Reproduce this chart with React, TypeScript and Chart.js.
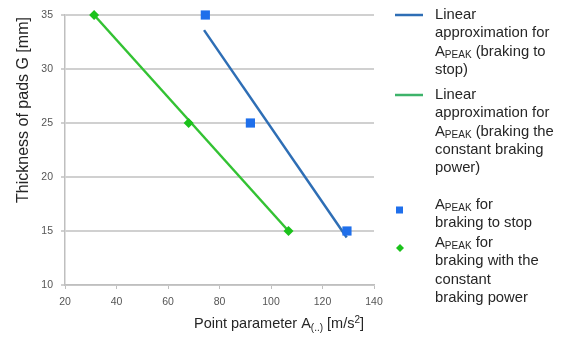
import React, { useEffect, useRef } from 'react';
import { Chart, registerables } from 'chart.js';

Chart.register(...registerables);

// ---- data ----
const xTickValues = [20, 40, 60, 80, 100, 120, 140];
const yTickValues = [10, 15, 20, 25, 30, 35];

const stopX = [74.5, 92, 129.5];
const stopY = [35, 25, 15];
const constX = [31.3, 68, 106.8];
const constY = [35, 25, 15];

const stopFitX = [74, 129.4];
const stopFitY = [33.6, 14.4];
const constFitX = [31.3, 106.8];
const constFitY = [35, 15];

const yTitle = 'Thickness of pads G [mm]';

type Run = { t: string; k?: 'sub' | 'sup' };
const legendItems: { kind: 'line' | 'rect' | 'diamond'; color: string; lines: Run[][] }[] = [
  {
    kind: 'line',
    color: '#2E6EB5',
    lines: [
      [{ t: 'Linear' }],
      [{ t: 'approximation for' }],
      [{ t: 'A' }, { t: 'PEAK', k: 'sub' }, { t: ' (braking to' }],
      [{ t: 'stop)' }],
    ],
  },
  {
    kind: 'line',
    color: '#3DB36A',
    lines: [
      [{ t: 'Linear' }],
      [{ t: 'approximation for' }],
      [{ t: 'A' }, { t: 'PEAK', k: 'sub' }, { t: ' (braking the' }],
      [{ t: 'constant braking' }],
      [{ t: 'power)' }],
    ],
  },
  {
    kind: 'rect',
    color: '#1F6FEB',
    lines: [
      [{ t: 'A' }, { t: 'PEAK', k: 'sub' }, { t: ' for' }],
      [{ t: 'braking to stop' }],
    ],
  },
  {
    kind: 'diamond',
    color: '#1BC21B',
    lines: [
      [{ t: 'A' }, { t: 'PEAK', k: 'sub' }, { t: ' for' }],
      [{ t: 'braking with the' }],
      [{ t: 'constant' }],
      [{ t: 'braking power' }],
    ],
  },
];
const legendStarts = [15, 95, 205, 243];

const xTitleRuns: Run[] = [
  { t: 'Point parameter A' },
  { t: '(..)', k: 'sub' },
  { t: ' [m/s' },
  { t: '2', k: 'sup' },
  { t: ']' },
];

const FONT = '"Liberation Sans", Arial, sans-serif';

function drawRuns(ctx: CanvasRenderingContext2D, runs: Run[], x: number, y: number, size: number) {
  let cx = x;
  for (const r of runs) {
    if (r.k === 'sub') {
      ctx.font = `${Math.round(size * 0.68)}px ${FONT}`;
      ctx.fillText(r.t, cx, y + size * 0.22);
    } else if (r.k === 'sup') {
      ctx.font = `${Math.round(size * 0.68)}px ${FONT}`;
      ctx.fillText(r.t, cx, y - size * 0.35);
    } else {
      ctx.font = `${size}px ${FONT}`;
      ctx.fillText(r.t, cx, y);
    }
    cx += ctx.measureText(r.t).width;
  }
  return cx - x;
}

function measureRuns(ctx: CanvasRenderingContext2D, runs: Run[], size: number) {
  let w = 0;
  for (const r of runs) {
    ctx.font = r.k ? `${Math.round(size * 0.68)}px ${FONT}` : `${size}px ${FONT}`;
    w += ctx.measureText(r.t).width;
  }
  return w;
}

const decorPlugin = {
  id: 'decor',
  afterDraw(chart: any) {
    const ctx: CanvasRenderingContext2D = chart.ctx;
    ctx.save();
    ctx.fillStyle = '#262626';
    ctx.textAlign = 'left';

    // x title
    const xs = 14.5;
    const w = measureRuns(ctx, xTitleRuns, xs);
    ctx.textBaseline = 'alphabetic';
    drawRuns(ctx, xTitleRuns, 279 - w / 2, 328, xs);

    // y title
    ctx.save();
    ctx.translate(28, 110);
    ctx.rotate(-Math.PI / 2);
    ctx.font = `16px ${FONT}`;
    ctx.textAlign = 'center';
    ctx.fillText(yTitle, 0, 0);
    ctx.restore();

    // legend
    const ls = 14.8;
    const lh = 18.3;
    ctx.textBaseline = 'middle';
    legendItems.forEach((item, i) => {
      const y0 = legendStarts[i];
      if (item.kind === 'line') {
        ctx.strokeStyle = item.color;
        ctx.lineWidth = 2.5;
        ctx.beginPath();
        ctx.moveTo(395, y0);
        ctx.lineTo(423, y0);
        ctx.stroke();
      } else if (item.kind === 'rect') {
        ctx.fillStyle = item.color;
        ctx.fillRect(396, y0 + 5 - 3.5, 7, 7);
      } else {
        ctx.fillStyle = item.color;
        ctx.beginPath();
        ctx.moveTo(400, y0 + 5 - 4);
        ctx.lineTo(404, y0 + 5);
        ctx.lineTo(400, y0 + 5 + 4);
        ctx.lineTo(396, y0 + 5);
        ctx.closePath();
        ctx.fill();
      }
      ctx.fillStyle = '#262626';
      item.lines.forEach((ln, j) => {
        drawRuns(ctx, ln, 435, y0 + j * lh, ls);
      });
    });
    ctx.restore();
  },
};

export default function App() {
  const ref = useRef<HTMLCanvasElement | null>(null);

  useEffect(() => {
    document.body.style.margin = '0';
    if (!ref.current) return;
    const pts = (xs: number[], ys: number[]) => xs.map((x, i) => ({ x, y: ys[i] }));
    const chart = new Chart(ref.current, {
      type: 'scatter',
      data: {
        datasets: [
          {
            label: 'APEAK for braking to stop',
            data: pts(stopX, stopY),
            pointStyle: 'rect',
            pointRadius: 6.5,
            backgroundColor: '#1F6FEB',
            borderColor: '#1F6FEB',
            borderWidth: 0,
            clip: false,
            order: 0,
          },
          {
            label: 'APEAK for braking with the constant braking power',
            data: pts(constX, constY),
            pointStyle: 'rectRot',
            pointRadius: 5,
            backgroundColor: '#1BC21B',
            borderColor: '#1BC21B',
            borderWidth: 0,
            clip: false,
            order: 0,
          },
          {
            label: 'Linear approximation for APEAK (braking to stop)',
            data: pts(stopFitX, stopFitY),
            showLine: true,
            borderColor: '#2E6EB5',
            borderWidth: 2.5,
            pointRadius: 0,
            clip: false,
            order: 1,
          },
          {
            label: 'Linear approximation for APEAK (braking the constant braking power)',
            data: pts(constFitX, constFitY),
            showLine: true,
            borderColor: '#33C233',
            borderWidth: 2.5,
            pointRadius: 0,
            clip: false,
            order: 1,
          },
        ],
      },
      options: {
        animation: false,
        responsive: true,
        maintainAspectRatio: false,
        layout: { padding: { left: 0, top: 15, right: 192, bottom: 0 } },
        plugins: { legend: { display: false }, tooltip: { enabled: false } },
        scales: {
          x: {
            type: 'linear',
            min: xTickValues[0],
            max: xTickValues[xTickValues.length - 1],
            afterBuildTicks: (s: any) => { s.ticks = xTickValues.map((v) => ({ value: v })); },
            afterFit: (s: any) => { s.height = 56; },
            grid: { drawOnChartArea: false, drawTicks: true, tickLength: 4, color: '#BFBFBF' },
            border: { display: true, color: '#BFBFBF', width: 1.5 },
            ticks: { color: '#555555', font: { family: FONT, size: 10.5 }, padding: 7 },
          },
          y: {
            type: 'linear',
            min: yTickValues[0],
            max: yTickValues[yTickValues.length - 1],
            afterBuildTicks: (s: any) => { s.ticks = yTickValues.map((v) => ({ value: v })); },
            afterFit: (s: any) => { s.width = 65; },
            grid: { drawOnChartArea: true, drawTicks: true, tickLength: 4, color: '#D0D0D0', lineWidth: 2 },
            border: { display: true, color: '#BFBFBF', width: 1.5 },
            ticks: { color: '#555555', font: { family: FONT, size: 10.5 }, padding: 8 },
          },
        },
      },
      plugins: [decorPlugin],
    });
    return () => chart.destroy();
  }, []);

  return (
    <div style={{ width: 566, height: 341, position: 'relative', background: '#fff' }}>
      <canvas ref={ref} />
    </div>
  );
}
